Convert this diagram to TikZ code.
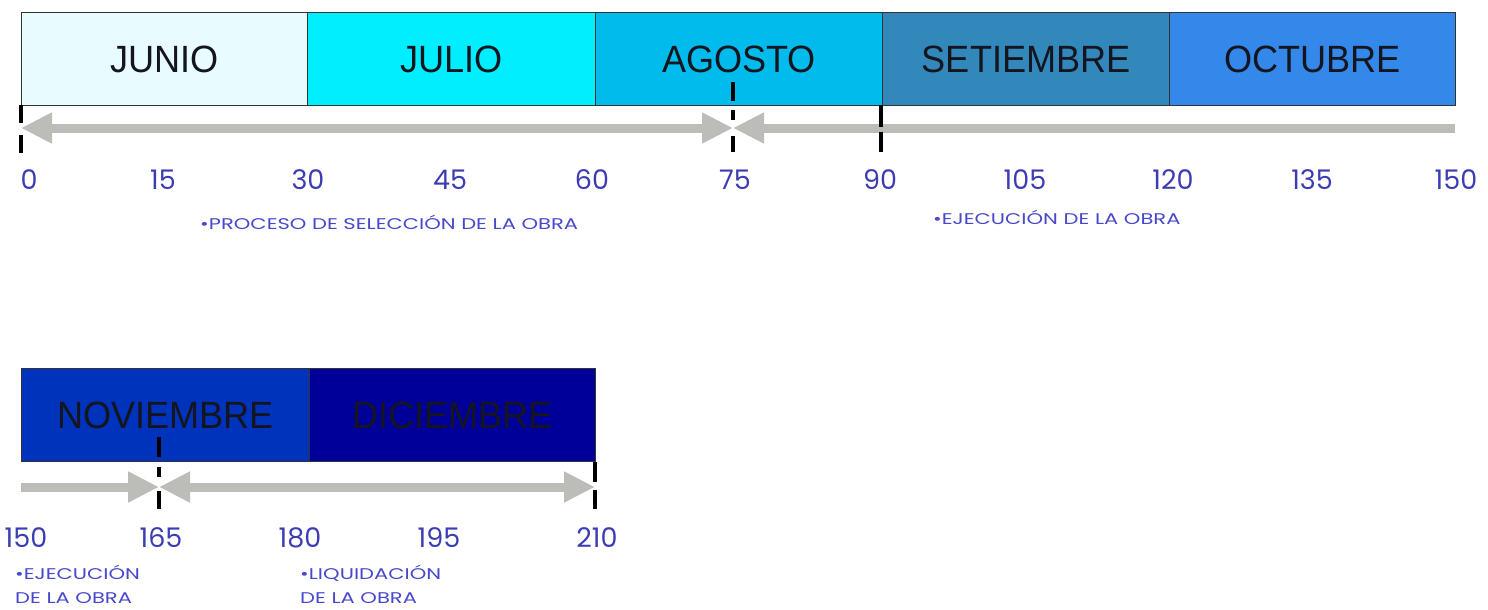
\documentclass[tikz,border=0pt]{standalone}
\usepackage{fontspec}
\usetikzlibrary{arrows.meta}
\newfontfamily\monthfont[FakeStretch=0.95]{Liberation Sans}
\newfontfamily\numfont{Poppins}
\newfontfamily\lblfont[FakeStretch=1.36]{Poppins}
\definecolor{cJun}{HTML}{E8FCFF}
\definecolor{cJul}{HTML}{00EEFF}
\definecolor{cAgo}{HTML}{00BBEB}
\definecolor{cSet}{HTML}{3388BB}
\definecolor{cOct}{HTML}{3388EA}
\definecolor{cNov}{HTML}{0033BB}
\definecolor{cDic}{HTML}{000099}
\definecolor{arrowgray}{HTML}{BCBCB8}
\definecolor{numblue}{HTML}{3C3CB4}
\definecolor{txtblue}{HTML}{4848CC}
\definecolor{mtext}{HTML}{15151F}
\tikzset{
  month/.style={draw=black!80, line width=1.3pt, anchor=north west, minimum height=93pt,
    inner sep=0pt, text=mtext, font=\monthfont\fontsize{38}{40}\selectfont},
  bar/.style={draw=arrowgray, line width=9pt, -{Triangle[length=31pt,width=29pt]}},
  dbar/.style={draw=arrowgray, line width=9pt, {Triangle[length=31pt,width=29pt]}-{Triangle[length=31pt,width=29pt]}},
  tick/.style={draw=black, line width=3.4pt, dash pattern=on 15pt off 7pt},
  num/.style={text=numblue, font=\numfont\fontsize{27}{29}\selectfont, inner sep=0pt},
  lbl/.style={text=txtblue, font=\lblfont\fontsize{15.5}{24}\selectfont, anchor=west, align=left, inner sep=0pt}
}
\begin{document}
\begin{tikzpicture}[x=1pt,y=-1pt]
\useasboundingbox (0,0) rectangle (1488,610);
% month boxes
\node[month, fill=cJun, minimum width=286pt] (junio) at (21,12) {JUNIO};
\node[month, fill=cJul, minimum width=288pt] (julio) at (307,12) {JULIO};
\node[month, fill=cAgo, minimum width=287pt] (agosto) at (595,12) {AGOSTO};
\node[month, fill=cSet, minimum width=287pt] (setiembre) at (882,12) {SETIEMBRE};
\node[month, fill=cOct, minimum width=286pt] (octubre) at (1169,12) {OCTUBRE};
\node[month, fill=cNov, minimum width=288pt] (noviembre) at (21,368) {NOVIEMBRE};
\node[month, fill=cDic, minimum width=286pt] (diciembre) at (309,368) {DICIEMBRE};
% coordinates
\coordinate (a0) at (21,128);
\coordinate (a75) at (733,128);
\coordinate (a150) at (1455,128);
\coordinate (b150) at (21,487);
\coordinate (b165) at (159,487);
\coordinate (b210) at (595,487);
% arrows
\draw[dbar] (a0) -- (a75);
\draw[bar] (a150) -- (a75);
\draw[bar] (b150) -- (b165);
\draw[dbar] (b165) -- (b210);
% ticks
\coordinate (t0a) at (21,105); \coordinate (t0b) at (21,153);
\coordinate (t75a) at (733,82); \coordinate (t75b) at (733,153);
\coordinate (t90a) at (881,105); \coordinate (t90b) at (881,153);
\coordinate (t165a) at (159,437); \coordinate (t165b) at (159,509);
\coordinate (t210a) at (595,462); \coordinate (t210b) at (595,509);
\draw[tick, dash pattern=on 18pt off 12pt on 18pt off 100pt] (t0a) -- (t0b);
\draw[tick, dash pattern=on 19pt off 9pt on 10pt off 16pt on 16pt off 100pt] (t75a) -- (t75b);
\draw[tick, dash pattern=on 22pt off 5pt on 20pt off 100pt] (t90a) -- (t90b);
\draw[tick, dash pattern=on 20pt off 10pt on 10pt off 14pt on 18pt off 100pt] (t165a) -- (t165b);
\draw[tick, dash pattern=on 20pt off 8pt on 20pt off 100pt] (t210a) -- (t210b);
% numbers top
\node[num] (n0) at (29,180) {0};
\node[num] (n15) at (163,180) {15};
\node[num] (n30) at (308,180) {30};
\node[num] (n45) at (450,180) {45};
\node[num] (n60) at (592,180) {60};
\node[num] (n75) at (735,180) {75};
\node[num] (n90) at (880,180) {90};
\node[num] (n105) at (1025,180) {105};
\node[num] (n120) at (1173,180) {120};
\node[num] (n135) at (1312,180) {135};
\node[num] (n150) at (1456,180) {150};
% numbers bottom
\node[num] (m150) at (26,538) {150};
\node[num] (m165) at (161,538) {165};
\node[num] (m180) at (300,538) {180};
\node[num] (m195) at (439,538) {195};
\node[num] (m210) at (597,538) {210};
% labels
\node[lbl] (l1) at (200,222) {•PROCESO DE SELECCIÓN DE LA OBRA};
\node[lbl] (l2) at (933,217) {•EJECUCIÓN DE LA OBRA};
\node[lbl, anchor=north west] (l3) at (15,565) {•EJECUCIÓN\\DE LA OBRA};
\node[lbl, anchor=north west] (l4) at (300,565) {•LIQUIDACIÓN\\DE LA OBRA};
\end{tikzpicture}
\end{document}
